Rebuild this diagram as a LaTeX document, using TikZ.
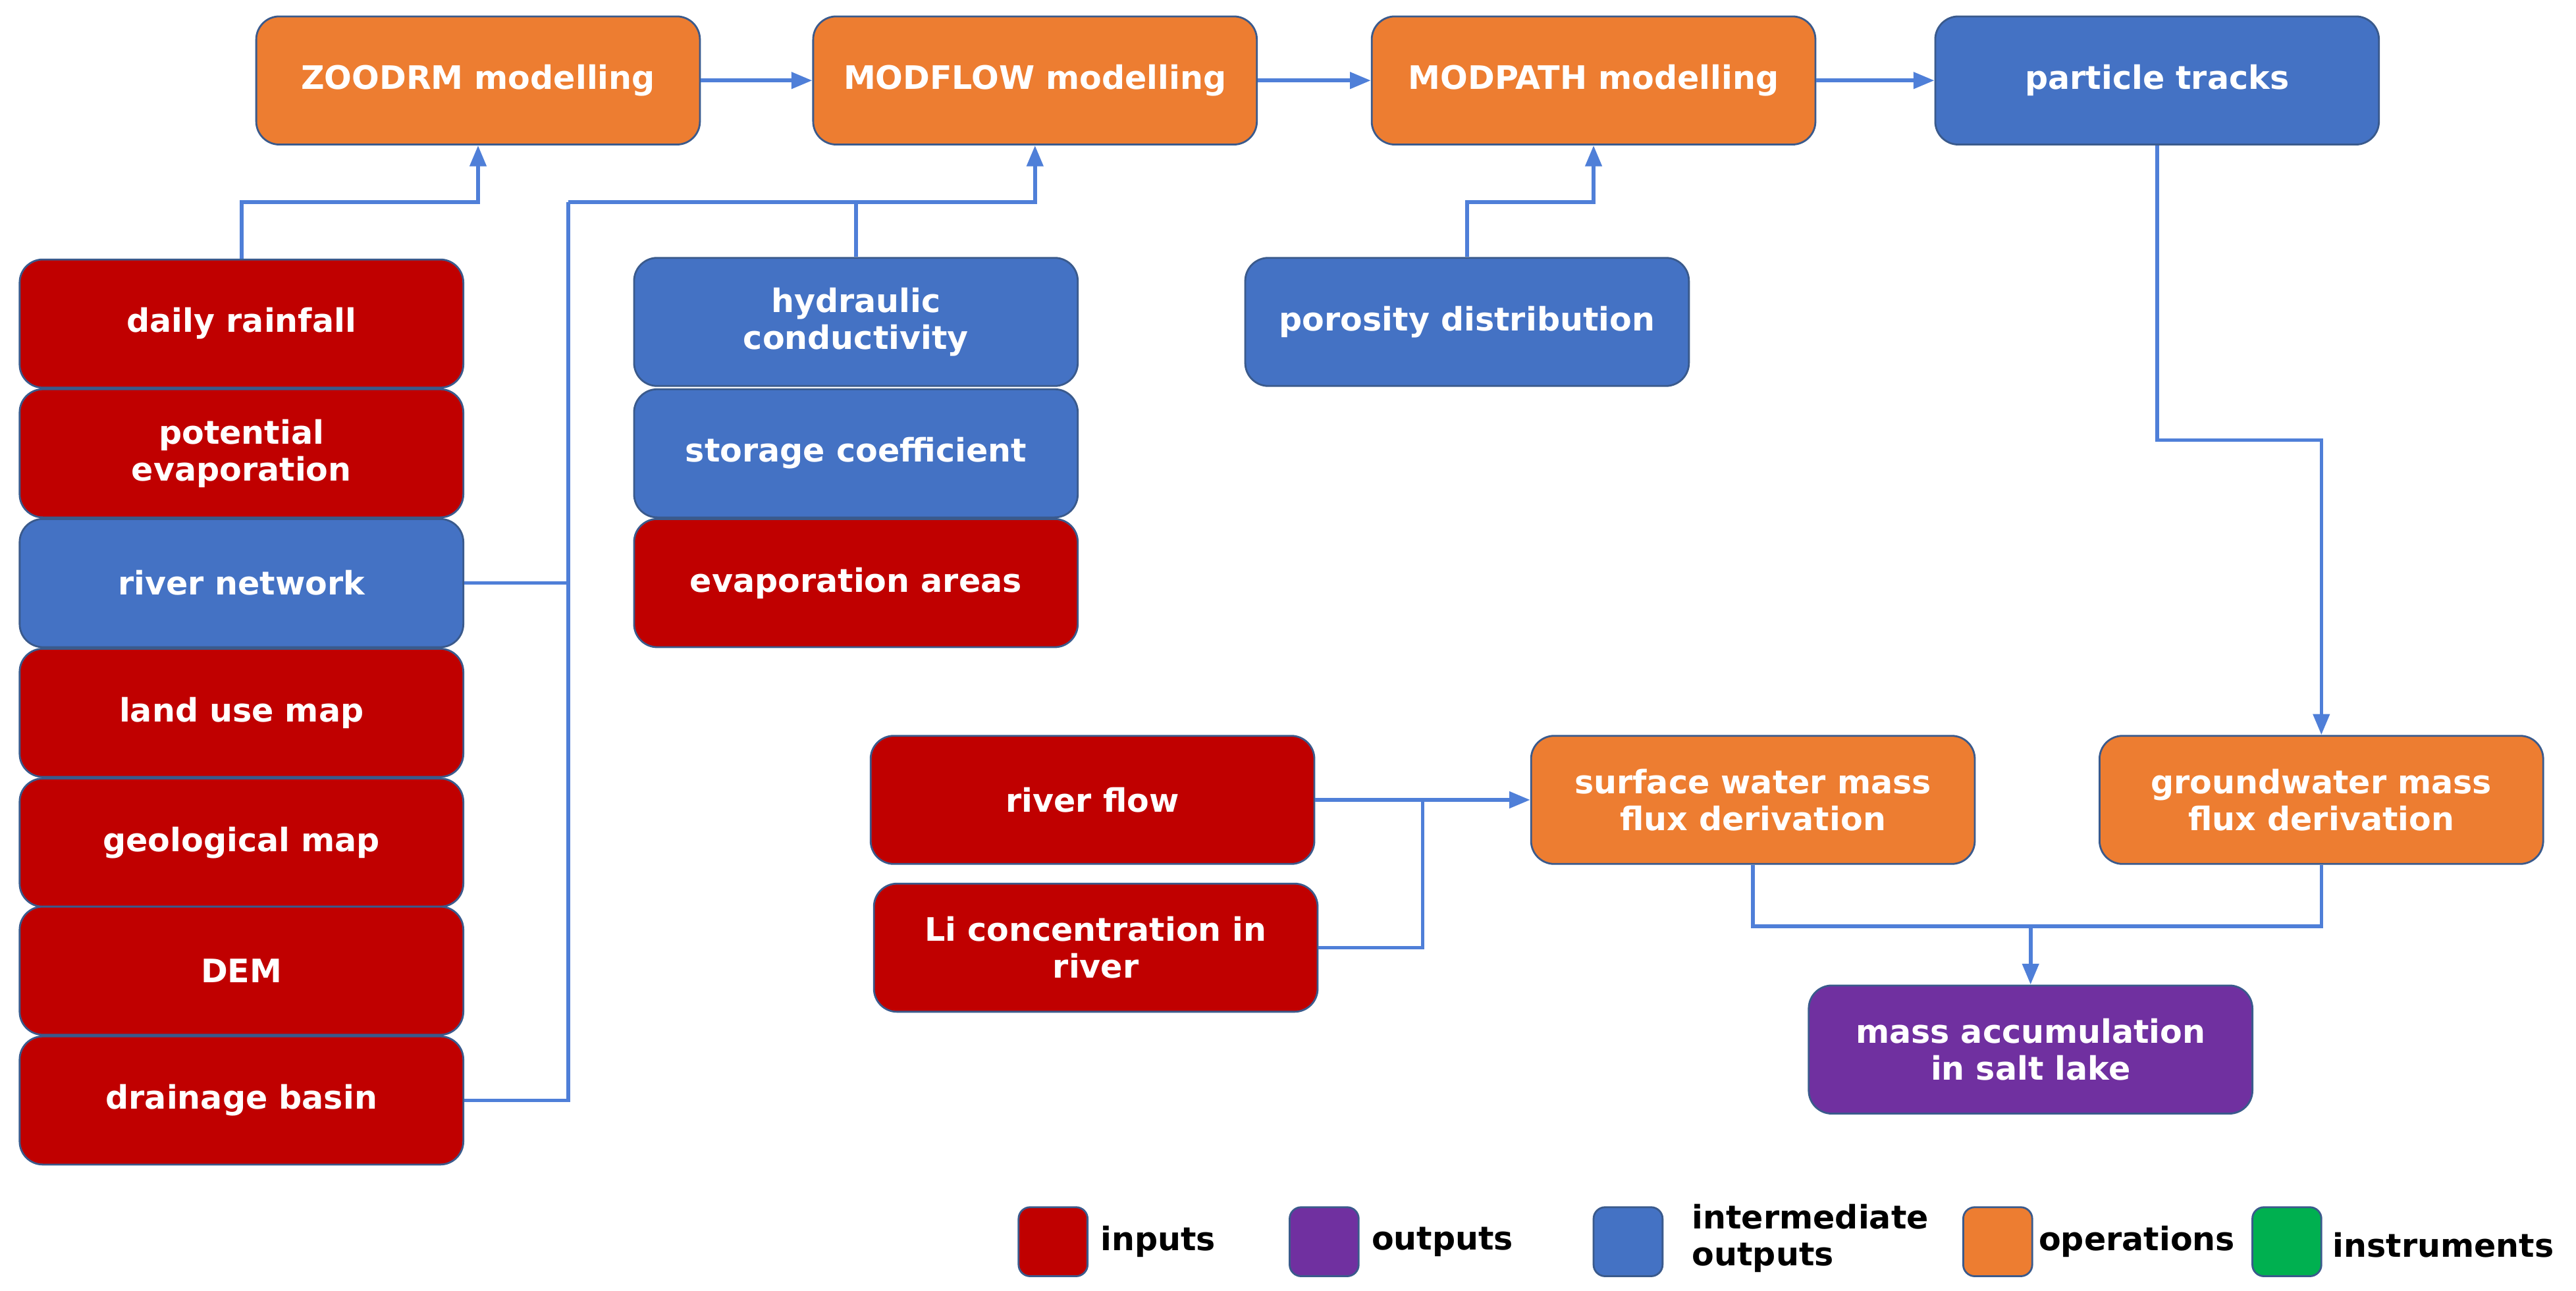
\documentclass[tikz,border=0pt]{standalone}
\usepackage{fontspec}
\setmainfont{DejaVu Sans}
\usetikzlibrary{arrows.meta}
\definecolor{cin}{HTML}{C00000}
\definecolor{cop}{HTML}{ED7D31}
\definecolor{cmid}{HTML}{4472C4}
\definecolor{cout}{HTML}{7030A0}
\definecolor{cins}{HTML}{00B050}
\definecolor{cline}{HTML}{4F7FD8}
\definecolor{cbord}{HTML}{3A5A8C}
\begin{document}
\begin{tikzpicture}[x=0.025cm,y=-0.025cm,
  box/.style={draw=cbord,line width=0.8pt,rounded corners=10pt,text=white,font=\bfseries\fontsize{14}{16}\selectfont,align=center,minimum width=6.75cm,minimum height=1.95cm,inner sep=2pt},
  inp/.style={box,fill=cin}, op/.style={box,fill=cop}, mid/.style={box,fill=cmid}, outp/.style={box,fill=cout},
  ln/.style={draw=cline,line width=1.6pt},
  ar/.style={ln,-{Triangle[length=9pt,width=7pt]}},
  leg/.style={draw=cbord,line width=0.8pt,rounded corners=5pt,minimum size=1.05cm,inner sep=0pt},
  lt/.style={font=\bfseries\fontsize{14}{16}\selectfont,align=left,anchor=west}]
\useasboundingbox (0,0) rectangle (1568,786);
\node[op] (zoo) at (291,49) {ZOODRM modelling};
\node[op] (mf) at (630,49) {MODFLOW modelling};
\node[op] (mp) at (970,49) {MODPATH modelling};
\node[mid] (pt) at (1313,49) {particle tracks};
\node[inp] (dr) at (147,197) {daily rainfall};
\node[inp] (pe) at (147,276) {potential\\evaporation};
\node[mid] (rn) at (147,355) {river network};
\node[inp] (lu) at (147,434) {land use map};
\node[inp] (gm) at (147,513) {geological map};
\node[inp] (dem) at (147,591) {DEM};
\node[inp] (db) at (147,670) {drainage basin};
\node[mid] (hc) at (521,196) {hydraulic\\conductivity};
\node[mid] (sc) at (521,276) {storage coefficient};
\node[inp] (ea) at (521,355) {evaporation areas};
\node[mid] (pd) at (893,196) {porosity distribution};
\node[inp] (rf) at (665,487) {river flow};
\node[inp] (li) at (667,577) {Li concentration in\\river};
\node[op] (sw) at (1067,487) {surface water mass\\flux derivation};
\node[op] (gw) at (1413,487) {groundwater mass\\flux derivation};
\node[outp] (ma) at (1236,639) {mass accumulation\\in salt lake};
% legend
\node[leg,fill=cin] (l1) at (641,756) {}; \node[lt] (t1) at (665,756) {inputs};
\node[leg,fill=cout] (l2) at (806,756) {}; \node[lt] (t2) at (830,756) {outputs};
\node[leg,fill=cmid] (l3) at (991,756) {}; \node[lt] (t3) at (1025,754) {intermediate\\outputs};
\node[leg,fill=cop] (l4) at (1216,756) {}; \node[lt] (t4) at (1236,756) {operations};
\node[leg,fill=cins] (l5) at (1392,756) {}; \node[lt] (t5) at (1415,758) {instruments};
% connectors
\draw[ar] (zoo) -- (mf);
\draw[ar] (mf) -- (mp);
\draw[ar] (mp) -- (pt);
\draw[ar] (dr.north) -- (147,123) -| (zoo.south);
\coordinate (j1) at (346,123);
\draw[ln] (rn.east) -- (346,355);
\draw[ln] (db.east) -- (346,670) -- (j1);
\draw[ar] (j1) -| (mf.south);
\draw[ln] (hc.north) -- (521,123);
\draw[ar] (pd.north) -- (893,123) -| (mp.south);
\draw[ar] (pt.south) -- (1313,268) -| (gw.north);
\draw[ar] (rf.east) -- (sw.west);
\draw[ln] (li.east) -- (866,577) -- (866,487);
\draw[ln] (sw.south) -- (1067,564) -| (gw.south);
\draw[ar] (1236,564) -- (ma.north);
\end{tikzpicture}
\end{document}
